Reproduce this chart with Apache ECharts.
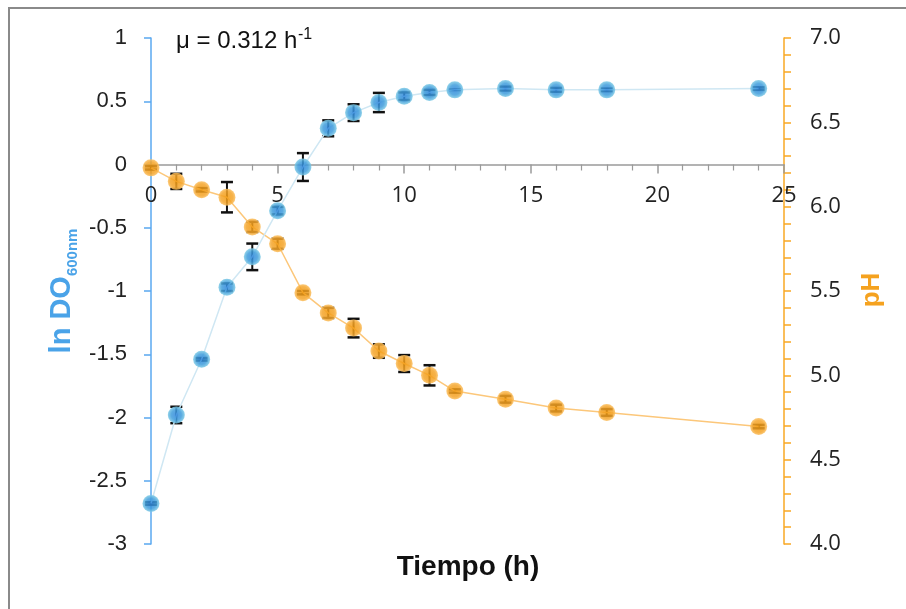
<!DOCTYPE html>
<html><head><meta charset="utf-8">
<script src="https://cdn.jsdelivr.net/npm/echarts@6/dist/echarts.min.js"></script>
<style>html,body{margin:0;padding:0;background:#fff}#c{width:906px;height:609px}</style>
</head><body><div id="c"></div>
<script>
const hours = [0,1,2,3,4,5,6,7,8,9,10,11,12,14,16,18,24];
const lnDO = [-2.68,-1.98,-1.54,-0.97,-0.73,-0.365,-0.02,0.286,0.41,0.49,0.54,0.57,0.59,0.60,0.59,0.59,0.60];
const lnDOErr = [0.01,0.065,0.01,0.03,0.105,0.03,0.11,0.063,0.066,0.076,0.03,0.02,0,0.015,0.015,0.01,0.01];
const pH = [6.23,6.15,6.10,6.056,5.88,5.78,5.49,5.37,5.28,5.144,5.07,5.00,4.907,4.858,4.806,4.78,4.696];
const pHErr = [0.01,0.045,0.01,0.09,0.03,0.03,0.01,0.03,0.055,0.04,0.05,0.06,0.01,0.02,0.02,0.02,0.01];
const leftTicks = {min:-3, max:1, interval:0.5};
const rightTicks = {min:4, max:7, interval:0.5};
const xTicks = {min:0, max:25, interval:5};

const blueData = hours.map((h,i)=>[h, lnDO[i]]);
const orangeData = hours.map((h,i)=>[h, pH[i]]);
const blueErr = hours.map((h,i)=>[h, lnDO[i]-lnDOErr[i], lnDO[i]+lnDOErr[i]]);
const orangeErr = hours.map((h,i)=>[h, pH[i]-pHErr[i], pH[i]+pHErr[i]]);

const gridTop = 38, gridBottom = 65, H = 609;
const plotH = H - gridTop - gridBottom;
const zeroFromBottom = plotH * (0 - leftTicks.min) / (leftTicks.max - leftTicks.min);

function errRender(params, api){
  const x = api.value(0);
  const lo = api.coord([x, api.value(1)]);
  const hi = api.coord([x, api.value(2)]);
  const w = 6;
  const st = {stroke:'#111', lineWidth:2};
  return {type:'group', children:[
    {type:'line', shape:{x1:lo[0],y1:lo[1],x2:hi[0],y2:hi[1]}, style:st},
    {type:'line', shape:{x1:lo[0]-w,y1:lo[1],x2:lo[0]+w,y2:lo[1]}, style:{stroke:'#111', lineWidth:2.5}},
    {type:'line', shape:{x1:hi[0]-w,y1:hi[1],x2:hi[0]+w,y2:hi[1]}, style:{stroke:'#111', lineWidth:2.5}}
  ]};
}
const blueFill = new echarts.graphic.RadialGradient(0.5,0.5,0.5,[{offset:0,color:'#2f86dc'},{offset:0.6,color:'#3f9ddc'},{offset:1,color:'#7fcbe6'}]);
const orangeFill = new echarts.graphic.RadialGradient(0.5,0.5,0.5,[{offset:0,color:'#f29a10'},{offset:0.7,color:'#f5a52a'},{offset:1,color:'#fbc062'}]);

const chart = echarts.init(document.getElementById('c'), null, {renderer:'canvas'});
chart.setOption({
  animation:false,
  grid:{left:151, right:122, top:gridTop, bottom:gridBottom},
  xAxis:{type:'value', min:xTicks.min, max:xTicks.max, interval:xTicks.interval, position:'bottom', offset:-zeroFromBottom,
    axisLine:{onZero:false, lineStyle:{color:'#9a9a9a', width:1.5}},
    axisTick:{show:true, length:9, lineStyle:{color:'#9a9a9a', width:1.5}},
    minorTick:{show:true, splitNumber:5, length:6, lineStyle:{color:'#9a9a9a', width:1.2}},
    splitLine:{show:false},
    axisLabel:{margin:20, fontSize:22, color:'#222', fontFamily:'Open Sans'}
  },
  yAxis:[
    {type:'value', min:leftTicks.min, max:leftTicks.max, interval:leftTicks.interval, position:'left',
      axisLine:{show:true, onZero:false, lineStyle:{color:'#5aa8f0', width:1.5}},
      axisTick:{show:true, length:7, lineStyle:{color:'#5aa8f0', width:1.5}},
      splitLine:{show:false},
      axisLabel:{margin:24, fontSize:22, color:'#222', fontFamily:'Liberation Sans'}
    },
    {type:'value', min:rightTicks.min, max:rightTicks.max, interval:rightTicks.interval, position:'right',
      axisLine:{show:true, onZero:false, lineStyle:{color:'#f9a825', width:1.5}},
      axisTick:{show:true, length:7, lineStyle:{color:'#f9a825', width:1.5}},
      minorTick:{show:true, splitNumber:5, length:7, lineStyle:{color:'#f9a825', width:1.5}},
      splitLine:{show:false},
      axisLabel:{margin:26, fontSize:22, color:'#222', fontFamily:'Open Sans', formatter:v=>v.toFixed(1)}
    }
  ],
  series:[
    {type:'custom', renderItem:errRender, data:orangeErr, yAxisIndex:1, z:1, encode:{x:0,y:[1,2]}},
    {type:'custom', renderItem:errRender, data:blueErr, yAxisIndex:0, z:1, encode:{x:0,y:[1,2]}},
    {type:'line', data:blueData, yAxisIndex:0, z:3, symbol:'circle', symbolSize:17,
      lineStyle:{color:'#cfe7f3', width:1.5}, itemStyle:{color:blueFill, opacity:0.85}},
    {type:'line', data:orangeData, yAxisIndex:1, z:2, symbol:'circle', symbolSize:17,
      lineStyle:{color:'#fcc77a', width:1.5}, itemStyle:{color:orangeFill, opacity:0.85}}
  ],
  graphic:[
    {type:'polyline', shape:{points:[[9,609],[9,8],[906,8]]}, style:{stroke:'#8a8a8a', lineWidth:2, fill:null}, z:0},
    {type:'text', x:176, y:41, style:{text:'μ = 0.312 h', fontSize:24, fontFamily:'Liberation Sans', fill:'#111', textVerticalAlign:'middle', textAlign:'left'}},
    {type:'text', x:298, y:35, style:{text:'-1', fontSize:16, fontFamily:'Liberation Sans', fill:'#111', textVerticalAlign:'middle', textAlign:'left'}},
    {type:'text', x:62, y:291, rotation:Math.PI/2, style:{text:'{a|ln DO}{b|600nm}', textAlign:'center', textVerticalAlign:'middle',
      rich:{a:{fontSize:29, fontWeight:'bold', fontFamily:'Liberation Sans', fill:'#4aa3e8', verticalAlign:'bottom'},
            b:{fontSize:15, fontWeight:'bold', fontFamily:'Liberation Sans', fill:'#4aa3e8', verticalAlign:'bottom', padding:[0,0,-4,0]}}}},
    {type:'text', x:872, y:290, rotation:Math.PI/2, style:{text:'pH', fontSize:26, fontWeight:'bold', fontFamily:'Liberation Sans', fill:'#f5a21f', textAlign:'center', textVerticalAlign:'middle'}},
    {type:'text', x:468, y:567, style:{text:'Tiempo (h)', fontSize:28, fontWeight:'bold', fontFamily:'Liberation Sans', fill:'#111', textAlign:'center', textVerticalAlign:'middle'}}
  ]
});
</script></body></html>
